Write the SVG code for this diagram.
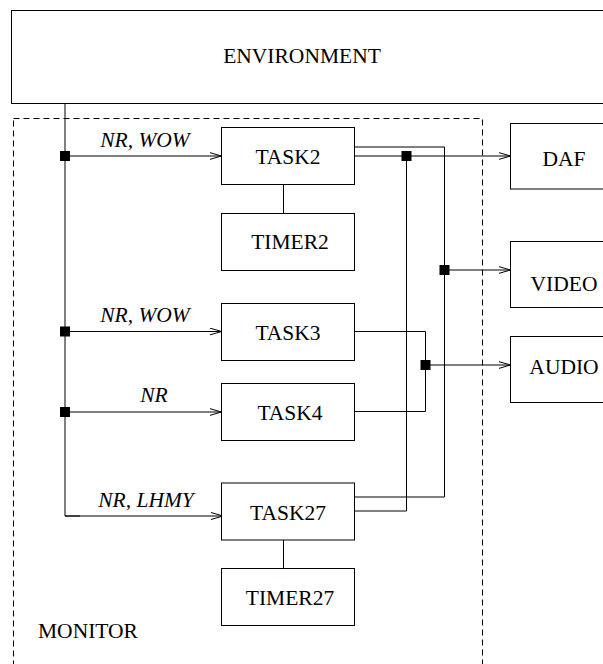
<svg xmlns="http://www.w3.org/2000/svg" width="603" height="664" viewBox="0 0 603 664">
<defs>
<style>
.box{fill:#fff;stroke:#000;stroke-width:1}
.ln{fill:none;stroke:#000;stroke-width:1}
.arr{fill:none;stroke:#000;stroke-width:1;marker-end:url(#ah)}
.dash{fill:none;stroke:#000;stroke-width:1;stroke-dasharray:6 4}
.t{font-family:"Liberation Serif","Times New Roman",serif;font-size:21.5px;fill:#000;text-anchor:middle}
.lbl{font-family:"Liberation Serif","Times New Roman",serif;font-size:21.5px;font-style:italic;fill:#000;text-anchor:middle}
.j{fill:#000}
</style>
<marker id="ah" markerUnits="userSpaceOnUse" markerWidth="14" markerHeight="9" refX="12" refY="4" orient="auto">
<path d="M0,0.5 L12,4 L0,7.5" fill="none" stroke="#000" stroke-width="1"/>
</marker>
</defs>

<g id="monitor">
<rect class="dash" x="13.5" y="118.5" width="469" height="560"/>
<text class="t" x="38" y="638" style="text-anchor:start">MONITOR</text>
</g>

<g id="environment">
<rect class="box" x="11.5" y="10.5" width="610" height="93"/>
<text class="t" x="302" y="63">ENVIRONMENT</text>
</g>

<g id="connectors">
<path class="ln" d="M65,104 V516 H80"/>
<path class="arr" d="M65,516 H223"/>
<path class="arr" d="M65,156 H221.5"/>
<path class="arr" d="M65,331.5 H221.5"/>
<path class="arr" d="M65,412 H221.5"/>
<path class="ln" d="M283.5,184.5 V213.5"/>
<path class="ln" d="M283.5,540 V568.5"/>
<path class="ln" d="M354.5,147 H444.5 V497 H354.5"/>
<path class="arr" d="M354.5,156 H510.5"/>
<path class="ln" d="M406.5,156 V511 H354.5"/>
<path class="arr" d="M444.5,270 H510.5"/>
<path class="ln" d="M354.5,331.5 H425.5 V411.5 H354.5"/>
<path class="arr" d="M425.5,365 H510.5"/>
<rect class="j" x="60" y="151" width="10" height="10"/>
<rect class="j" x="60" y="326.5" width="10" height="10"/>
<rect class="j" x="60" y="407" width="10" height="10"/>
<rect class="j" x="401.5" y="151" width="10" height="10"/>
<rect class="j" x="439.5" y="265" width="10" height="10"/>
<rect class="j" x="420.5" y="360" width="10" height="10"/>
<text class="lbl" x="145" y="147">NR, WOW</text>
<text class="lbl" x="145" y="322">NR, WOW</text>
<text class="lbl" x="154" y="402">NR</text>
<text class="lbl" x="146" y="507">NR, LHMY</text>
</g>

<g id="task2">
<rect class="box" x="221.5" y="127.5" width="133" height="57"/>
<text class="t" x="288" y="164">TASK2</text>
</g>
<g id="timer2">
<rect class="box" x="221.5" y="213.5" width="133" height="57"/>
<text class="t" x="290" y="249">TIMER2</text>
</g>
<g id="task3">
<rect class="box" x="221.5" y="303.5" width="133" height="57"/>
<text class="t" x="288" y="340">TASK3</text>
</g>
<g id="task4">
<rect class="box" x="221.5" y="383.5" width="133" height="57"/>
<text class="t" x="290" y="420">TASK4</text>
</g>
<g id="task27">
<rect class="box" x="221.5" y="483" width="133" height="57"/>
<text class="t" x="288" y="520">TASK27</text>
</g>
<g id="timer27">
<rect class="box" x="221.5" y="568.5" width="133" height="57"/>
<text class="t" x="290" y="605">TIMER27</text>
</g>
<g id="daf">
<rect class="box" x="510.5" y="123.5" width="110" height="65.5"/>
<text class="t" x="564" y="166">DAF</text>
</g>
<g id="video">
<rect class="box" x="510.5" y="241.5" width="110" height="66"/>
<text class="t" x="564" y="291">VIDEO</text>
</g>
<g id="audio">
<rect class="box" x="510.5" y="336.5" width="110" height="66"/>
<text class="t" x="564" y="374">AUDIO</text>
</g>
</svg>
